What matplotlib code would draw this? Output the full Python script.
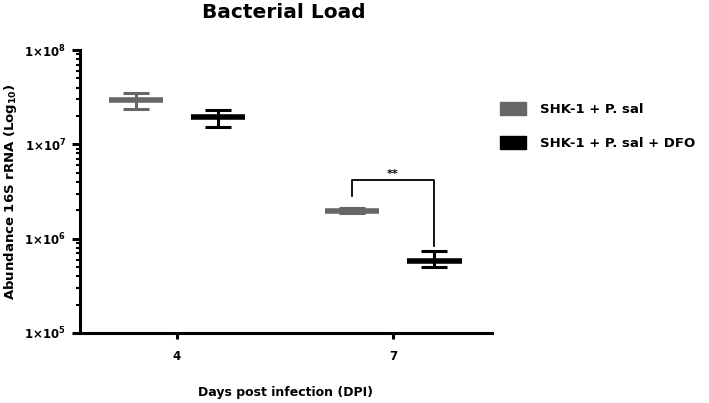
import matplotlib
matplotlib.use("Agg")
import matplotlib.pyplot as plt
from matplotlib.patches import Patch
from matplotlib.ticker import FixedLocator, LogLocator, NullFormatter

# ---- data ----
days = ["4", "7"]
series_names = ["SHK-1 + P. sal", "SHK-1 + P. sal + DFO"]
series_colors = ["#666666", "#000000"]
means = [[2.95e7, 1.98e6], [1.94e7, 5.85e5]]
lows = [[2.36e7, 1.88e6], [1.53e7, 4.98e5]]
highs = [[3.53e7, 2.10e6], [2.32e7, 7.34e5]]
ytick_vals = [1e5, 1e6, 1e7, 1e8]
ytick_labels = [r"1×10$^{\mathbf{5}}$", r"1×10$^{\mathbf{6}}$", r"1×10$^{\mathbf{7}}$", r"1×10$^{\mathbf{8}}$"]
sig_text = "**"

FONT = "DejaVu Sans"
W, H, DPI = 709, 403, 100
fig = plt.figure(figsize=(W / DPI, H / DPI), dpi=DPI)
plt.rcParams['mathtext.default'] = 'bf'
ax = fig.add_axes([80 / W, (H - 333) / H, (492 - 80) / W, (333 - 50) / H])

ax.set_yscale("log")
ax.set_ylim(1e5, 1e8)
ax.set_xlim(-0.449, 1.458)

offsets = [-0.19, 0.19]
half_mean = 0.127
for s in range(2):
    xs = [i + offsets[s] for i in range(len(days))]
    for i, x in enumerate(xs):
        ax.hlines(means[s][i], x - half_mean, x + half_mean, color=series_colors[s],
                  linewidth=4.0, zorder=3)
    yerr = [[means[s][i] - lows[s][i] for i in range(2)],
            [highs[s][i] - means[s][i] for i in range(2)]]
    ax.errorbar(xs, means[s], yerr=yerr, fmt="none", ecolor=series_colors[s],
                elinewidth=2.2, capsize=9.7, capthick=2.2, zorder=3)

# significance bracket
x_l = 1 + offsets[0]
x_r = 1 + offsets[1]
y_top = 10 ** (8 - (180 - 50) / 94.5)
y_l = 10 ** (8 - (196.7 - 50) / 94.5)
y_r = 10 ** (8 - (246.7 - 50) / 94.5)
ax.plot([x_l, x_l, x_r, x_r], [y_l, y_top, y_top, y_r], color="black", linewidth=1.3,
        zorder=3)
ax.text((x_l + x_r) / 2, y_top * 1.01, sig_text, ha="center", va="bottom",
        fontsize=8, fontweight="bold", family=FONT)

# axes styling
for sp in ["top", "right"]:
    ax.spines[sp].set_visible(False)
for sp in ["left", "bottom"]:
    ax.spines[sp].set_linewidth(2.2)

ax.set_xticks(range(len(days)))
ax.set_xticklabels(days, fontsize=8.5, fontweight="bold", family=FONT)
ax.tick_params(axis="x", length=4, width=2.2, pad=8)

ax.yaxis.set_major_locator(FixedLocator(ytick_vals))
ax.set_yticklabels(ytick_labels, fontsize=8.5, fontweight="bold", family=FONT)
ax.yaxis.set_minor_locator(LogLocator(base=10, subs=range(2, 10)))
ax.yaxis.set_minor_formatter(NullFormatter())
ax.tick_params(axis="y", which="major", length=6, width=2.2, pad=4)
ax.tick_params(axis="y", which="minor", length=3, width=1.5)

ax.set_xlabel("Days post infection (DPI)", fontsize=9, fontweight="bold",
              family=FONT, labelpad=17)
ax.set_ylabel(r"Abundance 16S rRNA (Log$_{\mathbf{10}}$)", fontsize=9.5, fontweight="bold",
              family=FONT, labelpad=4)

fig.text(284 / W, 1 - 12 / H, "Bacterial Load", ha="center", va="center",
         fontsize=14.5, fontweight="bold", family=FONT)

handles = [Patch(facecolor=c, edgecolor=c) for c in series_colors]
leg = fig.legend(handles, series_names, loc="upper left",
                 bbox_to_anchor=(500 / W, 1 - 102 / H), frameon=False,
                 prop={"family": FONT, "weight": "bold", "size": 9.5},
                 handlelength=2.0, handleheight=1.1, labelspacing=1.55,
                 handletextpad=1.0, borderaxespad=0, borderpad=0)

fig.savefig("out.png", dpi=DPI)
